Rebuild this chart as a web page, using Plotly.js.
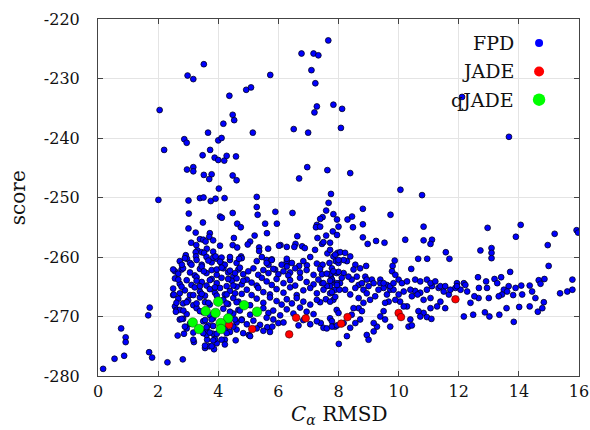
<!DOCTYPE html>
<html><head><meta charset="utf-8">
<script src="https://cdn.plot.ly/plotly-3.0.1.min.js"></script>
<style>html,body{margin:0;padding:0;background:#fff}</style>
</head><body><div id="chart" style="width:590px;height:430px"></div>
<script>
// ---- Data ----
const xTickVals = [0, 2, 4, 6, 8, 10, 12, 14, 16];
const xTickText = ['0', '2', '4', '6', '8', '10', '12', '14', '16'];
const yTickVals = [-280, -270, -260, -250, -240, -230, -220];
const yTickText = ['-280', '-270', '-260', '-250', '-240', '-230', '-220'];
const seriesNames = ['FPD', 'JADE', 'qJADE'];
const xTitle = '<i>C</i><sub><i>α</i></sub> RMSD';
const yTitle = 'score';

// FPD: sparse upper points
const fpdUpper = [[7.66,-223.6],[6.77,-225.8],[7.17,-225.8],[7.33,-226.1],[7.1,-228.6],[7.23,-230.8],[7.28,-234.7],[7.2,-235.7],[7.83,-234.4],[8.12,-235.1],[8.08,-238.3],[6.51,-238.5],[6.99,-239.1],[6.96,-244.9],[7.63,-245.4],[6.69,-246.8],[5.73,-229.4],[3.52,-227.6],[2.98,-229.5],[3.17,-230.1],[4.93,-231.9],[5.09,-231.5],[4.37,-232.9],[2.05,-235.3],[4.48,-236.1],[4.53,-237.0],[4.17,-237.6],[3.66,-239.1],[5.15,-239.1],[2.87,-240.2],[2.95,-240.8],[4.0,-240.4],[4.11,-240.0],[2.2,-242.0],[3.73,-242.0],[3.48,-242.9],[3.88,-243.3],[4.0,-243.7],[4.2,-243.8],[4.28,-243.0],[4.59,-243.1],[2.96,-245.3],[3.17,-244.9],[3.17,-245.6],[3.52,-246.2],[3.78,-246.1],[3.7,-246.9],[4.48,-246.3],[4.61,-247.1],[4.02,-248.5],[8.39,-245.9],[10.06,-248.7],[10.78,-249.6],[13.67,-239.8],[12.11,-233.1]];

// FPD: middle band, left part
const fpdMid = [[2.01,-250.4],[3.01,-250.5],[3.39,-250.1],[3.51,-250.0],[3.75,-250.6],[3.91,-250.2],[4.21,-250.1],[5.28,-249.9],[5.28,-251.6],[5.31,-252.9],[5.9,-252.4],[6.47,-252.6],[7.75,-249.4],[7.67,-250.9],[7.59,-252.2],[7.95,-253.7],[7.47,-253.3],[7.39,-253.6],[7.28,-254.6],[7.25,-255.0],[7.39,-254.9],[7.83,-252.8],[8.0,-254.9],[7.81,-255.7],[7.95,-256.3],[7.59,-256.4],[7.3,-256.8],[3.02,-252.7],[4.06,-253.2],[4.12,-253.4],[4.48,-252.6],[4.63,-254.4],[4.75,-255.0],[5.56,-254.4],[5.95,-254.4],[3.49,-254.2],[3.01,-255.2],[3.25,-255.9],[3.72,-256.0],[3.7,-256.6],[3.39,-257.0],[3.5,-257.1],[3.58,-257.4],[3.1,-257.6],[3.83,-257.2],[4.06,-258.1],[4.52,-256.8],[4.48,-258.0],[4.63,-258.4],[5.21,-256.4],[5.06,-257.4],[4.98,-257.9],[5.62,-256.0],[6.63,-256.5],[6.57,-257.8],[6.28,-258.3],[6.07,-258.0],[6.79,-258.2],[6.88,-258.5],[5.36,-258.4],[5.36,-259.0],[5.66,-258.6],[7.22,-258.8],[7.45,-257.8],[7.5,-257.5],[7.72,-257.6],[3.27,-258.0],[3.31,-258.9],[3.25,-259.2],[3.62,-258.6],[3.83,-259.1],[3.45,-259.2],[3.53,-259.3],[2.92,-259.7],[2.96,-260.3],[3.26,-259.9],[7.63,-259.4],[7.7,-261.0],[7.91,-260.7],[7.97,-259.3],[6.02,-258.1],[6.53,-258.3],[4.76,-259.9],[5.61,-260.5],[5.78,-260.4],[5.67,-261.3],[6.28,-260.7],[6.28,-261.6],[6.69,-261.5],[6.95,-261.4],[6.39,-262.6],[5.89,-262.1],[7.45,-262.9],[7.75,-263.1],[7.81,-264.3]];

// FPD: middle band, right part
const fpdMidRight = [[8.81,-251.9],[8.3,-253.7],[8.45,-253.2],[8.48,-255.0],[8.81,-254.5],[9.73,-252.9],[8.81,-256.7],[8.97,-257.8],[9.25,-257.3],[9.53,-257.6],[10.22,-257.1],[10.83,-254.9],[10.83,-257.2],[11.11,-257.1],[11.06,-257.8],[11.57,-259.2],[11.69,-260.3],[10.65,-260.3],[10.95,-260.3],[10.42,-262.0],[12.96,-255.1],[12.72,-258.9],[13.09,-258.5],[13.09,-259.3],[13.09,-260.2],[14.06,-254.6],[13.9,-256.6],[15.19,-256.1],[15.92,-255.5],[15.97,-255.9],[14.96,-258.0],[14.99,-261.5],[13.71,-262.5],[15.78,-263.8],[8.06,-259.2],[8.22,-259.3],[9.87,-260.6],[9.8,-261.5],[9.78,-262.4],[9.89,-263.0],[8.92,-261.5],[8.56,-261.3],[8.28,-260.7],[8.5,-262.1],[8.17,-262.7],[8.89,-263.3],[9.11,-263.8],[9.39,-263.8],[9.61,-264.7],[9.72,-265.5],[7.83,-259.9],[8.0,-261.0],[8.17,-260.5],[8.39,-259.9],[8.72,-261.9],[7.78,-261.9],[7.94,-262.7],[8.11,-263.5],[8.44,-263.8],[8.67,-264.7],[8.94,-263.8],[9.17,-264.4],[9.0,-264.9],[8.56,-265.2],[8.83,-265.5],[7.78,-263.8],[7.72,-264.9]];

// FPD: lower band, right part
const fpdRight = [[12.64,-263.4],[12.91,-264.1],[13.19,-263.7],[13.41,-263.4],[12.67,-265.2],[12.94,-265.2],[13.28,-264.4],[13.5,-265.5],[13.66,-264.9],[13.89,-265.2],[14.08,-264.8],[14.36,-264.8],[14.66,-263.9],[14.85,-263.7],[14.72,-264.5],[14.44,-265.8],[14.55,-266.9],[14.11,-266.3],[13.81,-266.4],[13.61,-265.8],[13.44,-266.3],[13.33,-266.6],[13.0,-266.9],[12.66,-266.9],[12.52,-266.6],[12.39,-267.7],[12.87,-269.3],[13.02,-270.0],[13.35,-269.7],[13.59,-268.6],[14.01,-268.4],[13.83,-270.9],[14.36,-268.3],[14.63,-269.2],[14.83,-267.6],[14.78,-268.6],[15.37,-266.1],[15.61,-265.8],[15.78,-265.5],[12.17,-270.0],[12.48,-269.7],[12.28,-265.8],[12.06,-265.5],[12.17,-264.4],[11.94,-264.4],[11.89,-265.2],[11.67,-266.3],[11.5,-265.8],[11.33,-265.2],[11.11,-264.9],[10.94,-265.5],[10.72,-266.0],[10.55,-265.7],[10.39,-265.5],[10.44,-266.6],[10.63,-266.3],[10.83,-267.2],[11.06,-266.9],[11.28,-268.3],[11.55,-268.6],[11.39,-267.5],[11.06,-268.6],[10.83,-269.4],[10.66,-269.1],[10.72,-270.0],[10.94,-270.1],[11.09,-270.4],[10.39,-270.5],[10.33,-271.7],[10.44,-271.5],[10.28,-268.3],[10.17,-268.3],[10.05,-267.5],[9.89,-267.2],[10.0,-266.3],[10.17,-265.8],[9.83,-265.5],[9.72,-264.9],[9.5,-265.2],[9.61,-266.3],[9.67,-267.5],[9.55,-267.7],[9.5,-269.1],[9.39,-270.0],[9.55,-270.5],[9.72,-271.7],[9.28,-271.7],[9.17,-271.1],[9.17,-272.5],[8.94,-273.1],[9.0,-273.9],[8.72,-270.5],[8.67,-268.6],[8.5,-268.6],[8.44,-269.7],[8.56,-271.1],[8.39,-271.9],[8.28,-273.3],[8.01,-274.6],[8.78,-269.1],[8.83,-267.7],[8.67,-266.9],[8.39,-266.3],[8.22,-265.5],[8.05,-264.4],[7.89,-265.5],[7.72,-266.1],[7.83,-267.2],[7.94,-268.9],[7.72,-270.3],[7.78,-270.8],[7.89,-271.7],[8.17,-271.1],[8.61,-263.3],[8.33,-263.3],[8.78,-264.4],[8.94,-266.1],[9.05,-267.2],[9.22,-266.6],[9.33,-265.5],[9.39,-264.4],[9.5,-264.4],[9.83,-264.4],[10.0,-263.8],[10.11,-264.4],[10.28,-264.1],[10.55,-263.8],[10.72,-264.1],[10.94,-263.8],[11.06,-264.4],[11.22,-264.1],[11.39,-264.9],[11.55,-264.9],[11.72,-265.5],[11.94,-264.9],[12.22,-264.7]];

// FPD: lower-left sparse points and cluster edges
const fpdLowLeft = [[0.17,-278.8],[0.55,-277.1],[0.87,-276.6],[0.77,-272.0],[0.92,-273.5],[0.92,-274.3],[1.72,-268.5],[1.67,-269.8],[1.7,-276.0],[1.8,-276.9],[2.31,-277.7],[2.82,-277.2],[2.65,-273.2],[2.86,-272.9],[3.19,-274.3],[2.72,-270.5],[2.56,-268.3],[2.61,-268.9],[2.5,-266.4],[2.56,-262.4],[2.78,-262.1],[3.56,-275.3],[3.7,-275.0],[3.86,-275.5],[3.95,-274.5],[3.89,-273.8],[3.63,-273.9],[3.61,-273.1],[4.22,-273.9],[4.58,-274.0],[4.22,-274.7],[5.02,-273.1],[5.63,-271.8],[5.8,-271.7],[6.0,-271.1],[5.83,-270.5],[6.67,-271.5],[7.41,-271.1],[7.5,-271.9],[7.61,-272.0],[7.78,-271.7],[7.95,-271.5],[8.0,-269.4],[7.39,-267.6],[7.58,-267.1],[7.72,-267.5],[7.89,-266.7],[7.45,-264.4],[7.61,-264.9],[7.78,-263.8],[7.95,-264.4],[8.03,-265.5],[7.47,-261.3],[7.72,-262.9],[8.0,-262.5],[7.72,-258.8],[7.89,-259.6],[8.0,-260.5],[5.06,-273.3]];

// FPD: dense core, upper rows
const fpdCoreUpper = [[2.72,-260.7],[2.89,-260.2],[3.06,-261.0],[3.28,-260.5],[3.45,-261.3],[3.61,-260.0],[3.78,-260.9],[3.95,-260.3],[4.11,-261.1],[4.39,-260.5],[4.61,-261.0],[4.78,-260.2],[5.28,-260.7],[5.45,-260.0],[5.61,-261.0],[5.78,-260.5],[6.11,-261.3],[6.28,-260.3],[6.45,-261.0],[6.83,-260.7],[7.06,-260.0],[7.28,-261.1],
[2.5,-262.1],[2.67,-262.8],[2.83,-261.9],[3.06,-262.6],[3.22,-263.1],[3.39,-262.0],[3.61,-262.7],[3.78,-262.2],[3.95,-263.0],[4.17,-261.9],[4.33,-262.6],[4.5,-263.3],[4.67,-262.1],[4.83,-262.9],[5.0,-262.4],[5.17,-261.9],[5.33,-263.0],[5.5,-262.2],[5.67,-262.7],[5.83,-262.0],[6.0,-262.9],[6.17,-262.4],[6.33,-263.1],[6.56,-261.9],[6.72,-262.6],[6.94,-262.2],[7.17,-263.0],[7.39,-262.0],[7.61,-262.8],[7.83,-262.4],
[2.56,-263.6],[2.72,-264.5],[2.95,-263.9],[3.11,-264.7],[3.28,-263.4],[3.45,-264.2],[3.61,-264.8],[3.78,-263.7],[3.95,-264.4],[4.11,-263.5],[4.28,-264.9],[4.45,-264.0],[4.61,-263.6],[4.78,-264.6],[4.95,-263.8],[5.11,-264.3],[5.28,-264.8],[5.45,-263.5],[5.61,-264.1],[5.78,-264.7],[5.94,-263.7],[6.17,-264.4],[6.39,-263.9],[6.56,-264.8],[6.72,-263.5],[6.94,-264.2],[7.17,-264.6],[7.33,-263.8],[7.5,-264.4],[7.72,-264.0],[7.95,-264.7],
[3.83,-260.1],[3.91,-259.9],[4.11,-260.1],[4.39,-260.0],[4.69,-260.3],[3.67,-260.6],[4.06,-260.8],[4.22,-261.3],[2.79,-261.3],[3.11,-261.3],[3.45,-261.6],[3.52,-262.4],[3.95,-262.1],[4.11,-261.8],[4.39,-262.3],[4.56,-262.7],[4.72,-261.8],
[2.67,-263.8],[3.28,-264.0],[3.72,-263.9],[4.33,-263.7],[4.83,-264.0]];

// FPD: dense core, lower rows
const fpdCoreLower = [[2.5,-265.3],[2.72,-266.1],[2.89,-265.6],[3.06,-266.4],[3.22,-265.1],[3.39,-265.8],[3.56,-266.5],[3.72,-265.4],[3.89,-266.0],[4.06,-265.2],[4.22,-266.3],[4.39,-265.7],[4.61,-265.0],[4.78,-266.2],[4.95,-265.5],[5.11,-266.4],[5.33,-265.2],[5.5,-265.9],[5.72,-266.3],[5.94,-265.4],[6.17,-266.0],[6.39,-265.1],[6.61,-266.4],[6.83,-265.6],[7.06,-265.2],[7.28,-266.1],[7.5,-265.5],[7.78,-265.9],
[2.67,-267.0],[2.83,-267.8],[3.0,-267.3],[3.17,-268.1],[3.39,-266.8],[3.56,-267.6],[3.72,-268.0],[4.17,-267.2],[4.33,-267.9],[4.5,-266.9],[4.67,-267.5],[5.06,-268.1],[5.28,-267.0],[5.5,-267.7],[5.72,-266.8],[5.94,-267.4],[6.11,-268.0],[6.28,-267.1],[6.45,-267.8],[6.61,-266.9],[6.83,-267.5],[7.06,-268.0],[7.28,-267.2],
[2.72,-268.9],[2.95,-269.6],[3.28,-268.6],[3.5,-269.3],[3.72,-269.8],[4.17,-268.7],[4.5,-269.5],[4.67,-268.9],[5.06,-269.7],[5.5,-268.6],[5.67,-269.4],[5.83,-269.0],[6.06,-269.8],[6.28,-268.8],[6.5,-269.5],[6.72,-268.5],[6.94,-269.2],[7.17,-269.6],
[2.83,-270.4],[3.06,-271.2],[3.5,-270.8],[3.67,-271.5],[3.83,-270.3],[4.61,-271.0],[4.78,-270.5],[4.95,-271.3],[5.17,-270.7],[5.39,-271.4],[5.61,-270.2],[6.17,-271.0],[6.83,-270.6],[7.06,-271.3],[7.28,-270.8],
[2.95,-272.0],[3.17,-272.7],[3.61,-272.3],[3.83,-272.9],[4.22,-272.1],[4.39,-272.6],[4.61,-272.2],[4.83,-272.8],[5.28,-272.0],[5.5,-272.4],[5.72,-272.6],
[2.78,-265.0],[3.39,-264.9],[3.89,-265.1],[4.5,-264.8],[2.52,-266.3],[3.17,-266.4],[3.45,-266.2],[3.95,-266.5],[4.28,-266.3],[4.56,-266.1],
[2.61,-267.7],[2.95,-267.6],[3.28,-267.8],[3.67,-267.7],[4.28,-267.8],[4.61,-267.6],[2.59,-269.2],[2.84,-269.0],[3.39,-269.1],[4.39,-269.2],[4.72,-269.0],
[2.78,-270.4],[3.56,-270.6],[3.78,-270.5],[4.56,-270.5],[4.78,-270.6],[2.89,-271.7],[3.61,-271.8],[3.83,-271.6],[4.5,-271.7],
[3.5,-272.8],[3.72,-272.7],[3.95,-272.9],[4.28,-272.8],[3.17,-273.9],[3.83,-274.0],[4.11,-273.9],[3.56,-274.9],[3.78,-275.0]];

// JADE (red)
const jadeX = [4.36, 5.13, 6.36, 6.59, 6.91, 8.09, 8.30, 10.00, 10.08, 11.89];
const jadeY = [-271.4, -272.1, -273.0, -270.2, -270.3, -271.2, -270.1, -269.4, -270.1, -267.1];

// qJADE (green)
const qjadeX = [4.00, 3.58, 3.91, 4.33, 3.15, 3.36, 4.08, 4.09, 4.86, 5.29];
const qjadeY = [-267.5, -269.1, -269.4, -270.3, -271.0, -272.1, -271.1, -272.1, -268.1, -269.2];

// ---- Build ----
const fpdAll = [].concat(fpdUpper, fpdMid, fpdMidRight, fpdRight, fpdLowLeft, fpdCoreUpper, fpdCoreLower);
const fpdX = fpdAll.map(p => p[0]);
const fpdY = fpdAll.map(p => p[1]);

const serif = 'DejaVu Serif, Liberation Serif, serif';
const axisColor = '#444444';
const gridColor = '#e4e4e4';

const traces = [
  {type: 'scatter', mode: 'markers', name: seriesNames[0], x: fpdX, y: fpdY,
   marker: {color: '#0000ff', size: 5.8, line: {color: '#000020', width: 0.8}}},
  {type: 'scatter', mode: 'markers', name: seriesNames[1], x: jadeX, y: jadeY,
   marker: {color: '#ff0000', size: 7.6, line: {color: '#400000', width: 0.6}}},
  {type: 'scatter', mode: 'markers', name: seriesNames[2], x: qjadeX, y: qjadeY,
   marker: {color: '#00ff00', size: 9.6, line: {color: '#104010', width: 0.5}}}
];

// custom legend (text right-aligned, marker at right)
const legColors = ['#0000ff', '#ff0000', '#00ff00'];
const legSizes = [8, 10, 12.5];
const legY = [0.933, 0.853, 0.774];
const annotations = seriesNames.map((n, i) => ({
  xref: 'paper', yref: 'paper', x: 0.868, y: legY[i], xanchor: 'right', yanchor: 'middle',
  text: n, showarrow: false, font: {family: serif, size: 19, color: '#111'}
}));
// axis titles placed as annotations for exact positioning
annotations.push({xref: 'paper', yref: 'paper', x: 0.5, y: -0.108, xanchor: 'center', yanchor: 'middle',
  text: xTitle, showarrow: false, font: {family: serif, size: 20, color: '#111'}});
annotations.push({xref: 'paper', yref: 'paper', x: -0.167, y: 0.5, xanchor: 'center', yanchor: 'middle',
  text: yTitle, textangle: -90, showarrow: false, font: {family: serif, size: 20, color: '#111'}});

const shapes = [{type: 'rect', xref: 'paper', yref: 'paper', x0: 0.75, x1: 0.964, y0: 0.731, y1: 0.978,
  fillcolor: '#ffffff', line: {width: 0}, layer: 'between'}];
seriesNames.forEach((n, i) => {
  const r = legSizes[i] / 2;
  shapes.push({type: 'circle', xref: 'paper', yref: 'paper', xsizemode: 'pixel', ysizemode: 'pixel',
    xanchor: 0.917, yanchor: legY[i], x0: -r, x1: r, y0: -r, y1: r,
    fillcolor: legColors[i], line: {width: 0}, layer: 'above'});
});

const layout = {
  width: 590, height: 430,
  margin: {l: 98, r: 11, t: 19, b: 54},
  paper_bgcolor: '#ffffff', plot_bgcolor: '#ffffff',
  showlegend: false,
  font: {family: serif, color: '#111'},
  xaxis: {
    range: [0, 16], tickmode: 'array', tickvals: xTickVals, ticktext: xTickText,
    ticks: 'inside', ticklen: 5, tickwidth: 1, tickcolor: axisColor,
    showline: true, linecolor: axisColor, linewidth: 1, mirror: 'ticks',
    showgrid: true, gridcolor: gridColor, gridwidth: 1, zeroline: false,
    tickfont: {family: serif, size: 16, color: '#111'}, ticklabelstandoff: 1
  },
  yaxis: {
    range: [-280, -220], tickmode: 'array', tickvals: yTickVals, ticktext: yTickText,
    ticks: 'inside', ticklen: 5, tickwidth: 1, tickcolor: axisColor,
    showline: true, linecolor: axisColor, linewidth: 1, mirror: 'ticks',
    showgrid: true, gridcolor: gridColor, gridwidth: 1, zeroline: false,
    tickfont: {family: serif, size: 16, color: '#111'}, ticklabelstandoff: 14
  },
  annotations: annotations,
  shapes: shapes
};

Plotly.newPlot('chart', traces, layout, {displayModeBar: false, staticPlot: true});
</script></body></html>
